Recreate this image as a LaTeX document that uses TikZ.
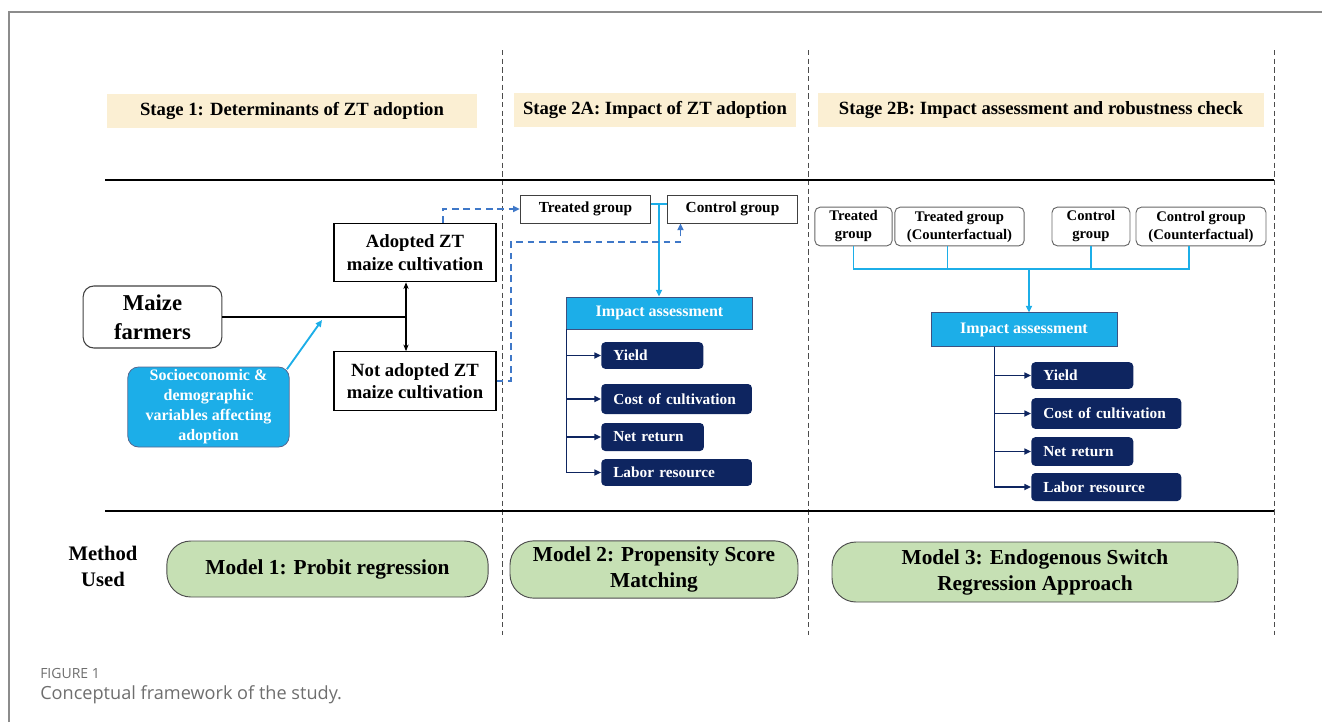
\documentclass[tikz,border=0pt]{standalone}
\usepackage{fontspec}
\setmainfont{Liberation Serif}
\newfontfamily\capfont{Open Sans}
\usetikzlibrary{arrows.meta}
\definecolor{ZTCream}{HTML}{FBEFD3}
\definecolor{ZTSky}{HTML}{1CAEE8}
\definecolor{ZTNavy}{HTML}{0E2560}
\definecolor{ZTGreen}{HTML}{C6E0B4}
\definecolor{ZTDash}{HTML}{3F78C8}
\definecolor{ZTCaption}{HTML}{6E6E6E}

\tikzset{
  stagebox/.style={fill=ZTCream, minimum height=25.5pt, inner sep=0pt, font=\fontsize{14}{16}\selectfont\bfseries},
  plainbox/.style={draw=black, line width=0.8pt, minimum width=121.5pt, minimum height=44pt, align=center, inner sep=0pt, font=\fontsize{14}{17}\selectfont\bfseries},
  groupbox/.style={draw=black!75, line width=0.7pt, minimum height=21pt, inner sep=0pt, font=\fontsize{11.5}{13}\selectfont\bfseries},
  cfbox/.style={draw=black!60, line width=0.7pt, rounded corners=4pt, minimum height=29pt, inner sep=0pt, align=center, font=\fontsize{11}{13.5}\selectfont\bfseries},
  impactbox/.style={fill=ZTSky, draw=ZTNavy!80, line width=0.6pt, text=white, minimum height=24pt, inner sep=0pt, font=\fontsize{12}{14}\selectfont\bfseries},
  itembox/.style={fill=ZTNavy, rounded corners=3pt, text=white, anchor=west, text width=#1, align=left, inner xsep=9pt, inner ysep=0pt, font=\fontsize{11.5}{13}\selectfont\bfseries},
  modelpill/.style={fill=ZTGreen, draw=black!70, line width=0.7pt, rounded corners=18pt, align=center, inner sep=0pt, font=\fontsize{16}{19.5}\selectfont\bfseries},
  skyline/.style={draw=ZTSky, line width=1.4pt},
  navyline/.style={draw=ZTNavy, line width=1.2pt},
  dashline/.style={draw=ZTDash, line width=1.3pt, dash pattern=on 5pt off 3.5pt},
  divider/.style={draw=black!70, line width=0.6pt, dash pattern=on 4pt off 2.5pt},
}

\begin{document}
\begin{tikzpicture}[x=0.75pt, y=-0.75pt, >={Triangle[length=5pt,width=4.5pt]}]
    \useasboundingbox (0,0) rectangle (1322,722);

    % ========== FRAME AND GRID ==========
    \draw[black!45, line width=0.8pt] (9,722) -- (9,12) -- (1322,12);
    \foreach \xd in {502,808,1274}
        \draw[divider] (\xd,50) -- (\xd,635);
    \draw[line width=1.2pt] (105,180) -- (1274,180);
    \draw[line width=1.2pt] (105,511) -- (1274,511);

    % ========== STAGE HEADERS ==========
    \node[stagebox, minimum width=277.5pt] (stage1) at (292,111) {Stage 1: Determinants of ZT adoption};
    \node[stagebox, minimum width=212pt] (stage2a) at (655,110) {Stage 2A: Impact of ZT adoption};
    \node[stagebox, minimum width=335pt] (stage2b) at (1041,110) {Stage 2B: Impact assessment and robustness check};

    % ========== STAGE 1: ADOPTION DECISION ==========
    \node[draw=black!75, line width=0.8pt, rounded corners=8pt, minimum width=104pt, minimum height=46.5pt,
        align=center, inner sep=0pt, font=\fontsize{17}{22}\selectfont\bfseries] (farmers) at (152.5,317) {Maize\\farmers};
    \node[plainbox] (adopted) at (415,252.5) {Adopted ZT\\maize cultivation};
    \node[plainbox] (notadopted) at (415,381) {Not adopted ZT\\maize cultivation};
    \node[fill=ZTSky, draw=ZTNavy!70, line width=0.6pt, rounded corners=8pt, minimum width=121pt, minimum height=60pt,
        align=center, inner sep=0pt, text=white, font=\fontsize{12}{15}\selectfont\bfseries] (socio) at (208.5,407)
        {Socioeconomic \&\\demographic\\variables affecting\\adoption};

    % Split into adopters and non-adopters
    \coordinate (split) at (406,317);
    \coordinate (hit) at (322,320);
    \draw[line width=0.8pt] (farmers.east) -- (split);
    \draw[line width=0.8pt, -{Stealth[length=5pt,width=4pt]}] (split) -- (split |- adopted.south);
    \draw[line width=0.8pt, -{Stealth[length=5pt,width=4pt]}] (split) -- (split |- notadopted.north);
    \draw[skyline, ->] ([xshift=-2pt,yshift=-2pt]socio.north east) -- (hit);

    % ========== STAGE 2A: PSM ==========
    \node[groupbox, minimum width=98pt] (treatedA) at (585.5,209) {Treated group};
    \node[groupbox, minimum width=98pt] (controlA) at (732.5,209) {Control group};
    \node[impactbox, minimum width=139pt] (impactA) at (659.5,313) {Impact assessment};
    \node[itembox=58.5pt, minimum height=20pt] (yieldA) at (601,355.5) {Yield};
    \node[itembox=95pt, minimum height=22.5pt] (costA) at (601,399) {Cost of cultivation};
    \node[itembox=59pt, minimum height=21pt] (netA) at (601,437) {Net return};
    \node[itembox=95pt, minimum height=20pt] (laborA) at (601,472.5) {Labor resource};

    \coordinate (teeA) at (659,204);
    \draw[skyline] (treatedA.east |- teeA) -- (controlA.west |- teeA);
    \draw[skyline, ->] (teeA) -- (teeA |- impactA.north);
    \foreach \item in {yieldA,costA,netA,laborA}
        \draw[navyline, ->] (impactA.south west) |- (\item.west);

    % Dashed links from stage 1 to the groups
    \coordinate (bend) at (511,242);
    \draw[dashline, ->] ([xshift=21pt]adopted.north) |- (treatedA.west);
    \draw[dashline, ->] (notadopted.east) -| (bend) -| ([xshift=-39pt]controlA.south);

    % ========== STAGE 2B: ESR ==========
    \node[cfbox, minimum width=58pt] (tgB) at (853.5,226.5) {Treated\\group};
    \node[cfbox, minimum width=97pt] (tgcB) at (959.5,226.5) {Treated group\\(Counterfactual)};
    \node[cfbox, minimum width=58.5pt] (cgB) at (1091,226.5) {Control\\group};
    \node[cfbox, minimum width=97.5pt] (cgcB) at (1201,226.5) {Control group\\(Counterfactual)};
    \node[impactbox, minimum width=139.5pt, minimum height=25pt] (impactB) at (1024,329.5) {Impact assessment};
    \node[itembox=58.5pt, minimum height=20pt] (yieldB) at (1031,375.5) {Yield};
    \node[itembox=94.5pt, minimum height=23pt] (costB) at (1031,413.5) {Cost of cultivation};
    \node[itembox=58.5pt, minimum height=21.5pt] (netB) at (1031,451.5) {Net return};
    \node[itembox=94.5pt, minimum height=21pt] (laborB) at (1031,487) {Labor resource};

    % Bus joining the four groups
    \coordinate (busB) at (1029,269);
    \draw[skyline] (tgB.south) -- (tgB.south |- busB);
    \draw[skyline] ([xshift=-9pt]tgcB.south) -- ([xshift=-9pt]tgcB.south |- busB);
    \draw[skyline] (cgB.south) -- (cgB.south |- busB);
    \draw[skyline] ([xshift=-9pt]cgcB.south) -- ([xshift=-9pt]cgcB.south |- busB);
    \draw[skyline, line cap=rect] (tgB.south |- busB) -- ([xshift=-9pt]cgcB.south |- busB);
    \draw[skyline, ->] (busB) -- (busB |- impactB.north);
    \coordinate (stemB) at ([xshift=48pt]impactB.south west);
    \foreach \item in {yieldB,costB,netB,laborB}
        \draw[navyline, ->] (stemB) |- (\item.west);

    % ========== METHODS ==========
    \node[align=center, font=\fontsize{15.5}{19.5}\selectfont\bfseries] (method) at (103,566) {Method\\Used};
    \node[modelpill, minimum width=241pt, minimum height=42pt] (model1) at (327.5,569) {Model 1: Probit regression};
    \node[modelpill, minimum width=216pt, minimum height=43pt] (model2) at (654,569.5) {Model 2: Propensity Score\\Matching};
    \node[modelpill, minimum width=304.5pt, minimum height=45pt] (model3) at (1035,572) {Model 3: Endogenous Switch\\Regression Approach};

    % Caption
    \node[anchor=west, inner sep=0pt, text=ZTCaption, font=\capfont\fontsize{10.5}{12}\selectfont] (figlabel) at (40,673) {FIGURE 1};
    \node[anchor=west, inner sep=0pt, text=ZTCaption, font=\capfont\fontsize{13.6}{16}\selectfont] (figcaption) at (40,695) {Conceptual framework of the study.};

\end{tikzpicture}
\end{document}
